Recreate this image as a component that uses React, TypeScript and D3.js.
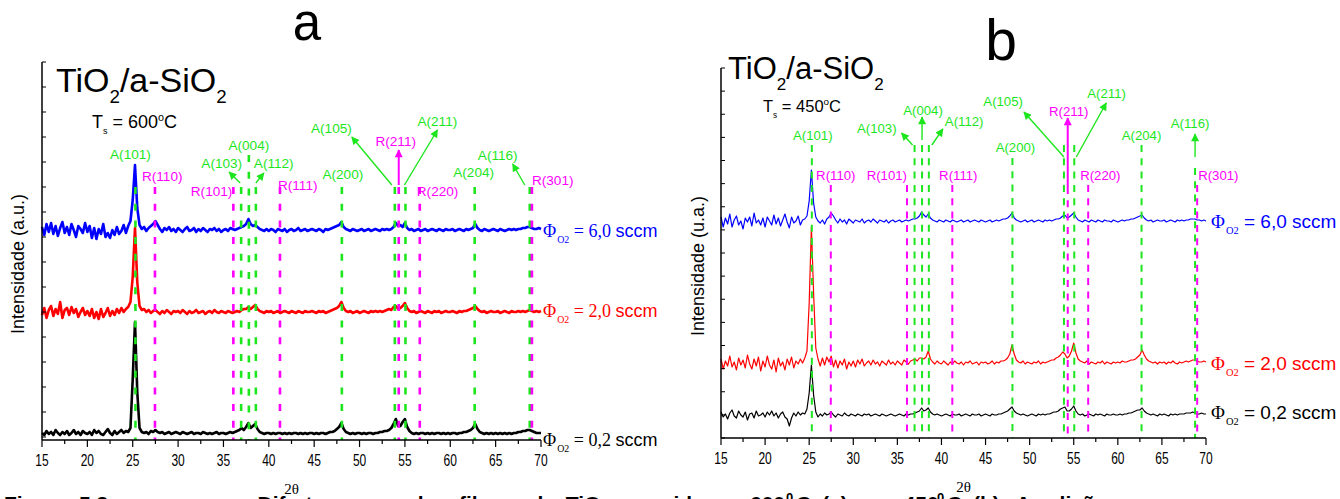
import React from "react";
import * as d3 from "d3";

// ---------- DATA ----------
// 2θ sampling grid: 15° .. 70°, step 0.25° (221 points)
const thetaStart = 15;
const thetaStep = 0.25;
const twoTheta: number[] = d3.range(221).map((i) => thetaStart + i * thetaStep);

const xTickValues = [15, 20, 25, 30, 35, 40, 45, 50, 55, 60, 65, 70];

// Reference peak positions (2θ)
const anataseLabels = ["A(101)", "A(103)", "A(004)", "A(112)", "A(200)", "A(105)", "A(211)", "A(204)", "A(116)"];
const anatasePos = [25.3, 36.95, 37.8, 38.57, 48.05, 53.89, 55.06, 62.69, 68.76];
const rutileLabels = ["R(110)", "R(101)", "R(111)", "R(211)", "R(220)", "R(301)"];
const rutilePos = [27.45, 36.09, 41.23, 54.32, 56.64, 69.0];

// Panel a (600°C) — intensities above each trace's own baseline (a.u.)
const a600_phi60 = [
  3, -5, 6, -2, 7, -4, 4, -6, 2, 8, -3, 3, -5, 6, 0, -7, 4, 1, -3, 7,
  -2, 4, -8, 2, -9, 1, -4, 6, -7, -3, -8, 0, -5, 3, -4, -1, 5, -3, 4, 9,
  30, 65, 22, 5, 1, 3, -1, 2, 4, 6, 9, 5, 1, -2, 2, 0, 3, -1, 1, -2,
  2, 0, -2, 1, 3, -1, 0, 2, -2, 1, -1, 2, 0, -2, 1, 0, 2, -1, 1, -2,
  0, 1, -1, 2, 1, 0, 1, 2, 3, 4, 6, 11, 6, 4, 5, 3, 1, 0, -1, 1,
  -1, 1, 0, -2, 1, 0, -1, 1, -2, 0, 1, -1, 0, 2, -1, 0, 1, -1, 0, 1,
  0, -1, 1, 0, -2, 1, 0, 1, 2, 3, 4, 5, 8, 3, 1, 0, -1, 1, 0, -1,
  0, 1, -1, 0, 1, -1, 0, 1, 0, -1, 1, 0, 1, 0, 1, 3, 7, 4, 5, 3,
  7, 2, 0, 1, -1, 0, 1, -1, 0, 1, -1, 0, 1, 0, -1, 1, 0, -1, 1, 0,
  0, 1, -1, 0, 1, 0, -1, 1, 0, 1, 2, 6, 2, 0, -1, 1, 0, -1, 0, 1,
  0, -1, 1, 0, -1, 0, 1, 0, 1, 0, 1, 1, 2, 2, 3, 3, 2, 1, 1, 2,
  1,
];
const a600_phi20 = [
  -3, 4, -6, 2, 6, -4, 3, -2, 10, -6, 2, 4, -3, 5, -1, 3, -5, 0, 4, -3,
  1, -4, 3, -6, 0, -7, 3, -5, -1, 4, -4, 1, -3, 3, -1, 4, 0, 3, 5, 10,
  35, 84, 30, 6, 2, 3, 0, 2, -1, 1, 2, 0, -2, 1, -1, 2, 0, -2, 1, 0,
  1, -1, 2, 0, -2, 1, -1, 0, 2, -1, 0, 1, -2, 0, 1, -1, 2, 0, -1, 1,
  0, -1, 1, 0, -1, 0, 1, 0, 2, 3, 3, 5, 3, 5, 7, 3, 1, 0, -1, 1,
  0, 1, -1, 0, 1, -1, 0, 1, 0, -1, 1, 0, -1, 1, 0, -1, 1, 0, 0, 1,
  0, -1, 1, 0, 1, -1, 0, 1, 2, 3, 4, 6, 10, 4, 1, 0, 1, -1, 0, 1,
  -1, 0, 1, 0, -1, 1, 0, 1, 0, 1, 0, 1, 2, 3, 2, 5, 6, 3, 4, 6,
  9, 4, 1, 0, 1, -1, 0, 1, 0, -1, 1, 0, -1, 1, 0, 1, -1, 0, 1, 0,
  0, 1, 0, -1, 1, 0, 1, 1, 2, 3, 4, 6, 3, 1, 0, 1, -1, 0, 1, 0,
  0, 1, -1, 0, 1, 0, -1, 1, 0, 0, 1, 0, 1, 0, 1, 2, 1, 0, 1, 0,
  1,
];
const a600_phi02 = [
  1, -1, 3, 0, 2, -1, 4, 1, -1, 2, 0, 3, -1, 1, 4, 0, 2, -1, 3, 1,
  0, 2, -1, 4, 1, 3, 0, -1, 2, 5, 1, -1, 3, 0, 2, 4, 1, 3, 2, 6,
  55, 112, 42, 6, 2, 1, 2, 0, 3, 2, 4, 2, 1, 2, 0, 1, 2, 0, 1, 2,
  1, 0, 2, 1, 0, 1, 2, 0, 1, 1, 0, 2, 1, 0, 1, 0, 1, 2, 0, 1,
  1, 0, 1, 2, 1, 2, 3, 4, 6, 4, 7, 11, 6, 8, 10, 5, 2, 1, 0, 1,
  1, 0, 1, 0, 1, 1, 0, 1, 0, 1, 0, 1, 1, 0, 1, 0, 1, 0, 1, 1,
  0, 1, 0, 1, 1, 0, 1, 2, 2, 3, 5, 7, 11, 5, 2, 1, 0, 1, 0, 1,
  1, 0, 1, 0, 1, 1, 0, 1, 1, 2, 2, 3, 3, 4, 6, 10, 15, 8, 8, 12,
  15, 7, 3, 1, 0, 1, 0, 1, 1, 0, 1, 0, 1, 0, 1, 1, 0, 1, 0, 1,
  0, 1, 1, 0, 1, 1, 2, 2, 3, 4, 6, 10, 5, 2, 1, 0, 1, 0, 1, 0,
  1, 0, 1, 0, 1, 0, 1, 0, 1, 1, 2, 2, 3, 3, 4, 4, 3, 2, 1, 1,
  1,
];

// Panel b (450°C)
const b450_phi60 = [
  4, -6, 3, -3, 7, -6, 1, 5, -4, 0, -8, 3, -1, 4, -5, 8, -2, 1, -4, 3,
  -6, 4, 0, -4, 6, -3, 3, -5, 1, 7, -1, -7, 4, -2, 0, 5, -4, 1, 2, 5,
  20, 51, 18, 4, 0, -2, 1, -3, 2, 4, 8, 5, 1, -2, 2, -1, 1, -3, 2, 0,
  -2, 1, 0, -1, 2, -2, 0, 1, -1, 2, 0, -2, 1, 0, -1, 1, -2, 0, 1, -1,
  0, 1, -1, 0, 1, 0, 1, 2, 2, 3, 5, 9, 6, 4, 7, 3, 1, 0, -1, 1,
  0, -1, 1, 0, -1, 1, 0, -1, 0, 1, -1, 0, 1, -1, 0, 1, 0, -1, 1, 0,
  -1, 0, 1, -1, 0, 1, 0, 1, 2, 2, 3, 5, 8, 3, 1, 0, -1, 0, 1, -1,
  0, 1, -1, 0, 1, 0, -1, 1, 0, 1, 0, 1, 2, 2, 3, 5, 6, 3, 4, 6,
  8, 4, 1, 0, -1, 1, 0, -1, 1, 0, -1, 1, 0, -1, 1, 0, 0, -1, 1, 0,
  -1, 0, 1, 0, 1, 1, 2, 2, 3, 4, 5, 6, 3, 1, 0, 1, -1, 0, 1, 0,
  0, 1, -1, 0, 1, 0, -1, 1, 0, 1, 0, 1, 1, 2, 2, 2, 1, 1, 0, 1,
  0,
];
const b450_phi20 = [
  4, -6, 2, -3, 7, -4, 1, -7, 5, -2, 3, -5, 8, -1, -6, 4, -3, 6, -8, 2,
  -4, 7, -2, -6, 3, -9, 5, -3, 1, -7, 4, -2, 6, -5, 2, -1, 4, 0, 5, 12,
  60, 136, 70, 15, 4, -3, 5, -2, 6, 1, 7, -4, 3, -5, 2, -2, 4, -6, 1, -3,
  2, -4, 3, -1, 4, -3, 0, 2, -2, 3, -1, 1, -3, 2, 0, -2, 3, -1, 1, -2,
  2, 0, -2, 3, 1, -1, 2, 3, 4, 2, 5, 5, 4, 6, 12, 4, 1, -1, 2, 0,
  -1, 2, 0, -2, 1, -1, 2, 0, -1, 1, -2, 1, 0, 2, -1, 0, 1, -2, 1, 0,
  1, -1, 0, 2, -1, 1, 0, 2, 2, 3, 5, 9, 18, 9, 3, 1, 0, 2, -1, 1,
  0, -1, 1, 0, 2, -1, 1, 0, 1, 2, 3, 3, 5, 6, 8, 11, 9, 5, 7, 12,
  20, 10, 4, 2, 1, 0, 2, -1, 1, 0, -1, 1, 0, 2, -1, 1, 0, -1, 1, 0,
  1, 0, 2, 1, 1, 2, 3, 3, 4, 6, 8, 13, 8, 4, 2, 1, 0, 1, -1, 1,
  0, 1, -1, 1, 0, 2, 0, -1, 1, 0, 1, 2, 1, 2, 3, 3, 2, 1, 1, 2,
  1,
];
const b450_phi02 = [
  3, -2, 1, -4, 2, 5, -1, -3, 4, 0, -2, 3, -5, 1, 2, -3, 4, -1, 0, 2,
  -2, 3, 0, 4, -1, 2, -3, 1, 3, -2, -4, -11, -3, 2, -1, 3, 0, 2, 1, 6,
  22, 50, 20, 3, -2, 1, -1, 2, 0, 1, 3, 0, -2, 1, 0, -1, 2, 0, -1, 1,
  0, -1, 1, 0, -1, 1, 0, 1, -1, 0, 1, 0, -1, 1, 0, -1, 0, 1, 0, -1,
  0, 1, 0, -1, 1, 0, 1, 1, 2, 3, 4, 7, 4, 5, 7, 3, 1, 0, 1, 0,
  -1, 0, 1, 0, -1, 1, 0, 0, 1, -1, 0, 1, 0, -1, 1, 0, 0, 1, -1, 0,
  1, 0, -1, 1, 0, 0, 1, 1, 2, 3, 4, 6, 8, 4, 2, 1, 0, 1, 0, -1,
  0, 1, 0, -1, 1, 0, 1, 0, 1, 1, 2, 3, 3, 4, 6, 7, 8, 4, 4, 6,
  9, 4, 1, 0, 1, -1, 0, 1, 0, -1, 1, 0, 1, 0, -1, 1, 0, 0, 1, 0,
  0, 1, 0, 1, 1, 2, 2, 3, 4, 5, 5, 7, 4, 2, 1, 0, 1, 0, -1, 1,
  0, 1, 0, -1, 1, 0, 1, 0, 1, 1, 1, 2, 2, 2, 3, 2, 1, 1, 2, 1,
  1,
];

// Stacking offsets (a.u.) for Φ = 0,2 / 2,0 / 6,0 sccm
const a600_offsets = [3, 125, 207];
const b450_offsets = [23, 75, 217];
const fluxLabels = ["0,2", "2,0", "6,0"];

// ---------- STYLE / LAYOUT ----------
const GREEN = "#1ee61e";
const MAGENTA = "#ff00ff";
const SERIES_COLORS = ["#000000", "#ff0000", "#0000ff"];
const SANS = "'Liberation Sans', Arial, sans-serif";
const SERIF = "'Liberation Serif', 'Times New Roman', serif";

type Ann = { top: number; dx: number; ly: number; anchor: string; arrow?: number[] };

const layoutA: Record<string, Ann> = {
  "A(101)": { top: 187, dx: -5, ly: 159, anchor: "middle" },
  "A(103)": { top: 187, dx: 1, ly: 168, anchor: "end", arrow: [-1, 183, -12, 172] },
  "A(004)": { top: 155, dx: 0, ly: 150, anchor: "middle" },
  "A(112)": { top: 187, dx: -2, ly: 168, anchor: "start", arrow: [0, 183, 8, 173] },
  "A(200)": { top: 187, dx: 1, ly: 179, anchor: "middle" },
  "A(105)": { top: 187, dx: -43, ly: 133, anchor: "end", arrow: [-3, 185, -43, 137] },
  "A(211)": { top: 187, dx: 12, ly: 126, anchor: "start", arrow: [-1, 185, 32, 130] },
  "A(204)": { top: 187, dx: -1, ly: 177, anchor: "middle" },
  "A(116)": { top: 187, dx: -32, ly: 160, anchor: "middle", arrow: [-5, 185, -17, 164] },
  "R(110)": { top: 187, dx: -13, ly: 181, anchor: "start" },
  "R(101)": { top: 187, dx: -1, ly: 196, anchor: "end" },
  "R(111)": { top: 187, dx: -2, ly: 190, anchor: "start" },
  "R(211)": { top: 187, dx: -3, ly: 146, anchor: "middle", arrow: [0, 185, 0, 150] },
  "R(220)": { top: 187, dx: -3, ly: 196, anchor: "start" },
  "R(301)": { top: 187, dx: 0, ly: 185, anchor: "start" },
};

const layoutB: Record<string, Ann> = {
  "A(101)": { top: 145, dx: 1, ly: 140, anchor: "middle" },
  "A(103)": { top: 145, dx: -18, ly: 133, anchor: "end", arrow: [-2, 145, -13, 133] },
  "A(004)": { top: 145, dx: 1, ly: 115, anchor: "middle", arrow: [0, 140, 0, 117] },
  "A(112)": { top: 145, dx: 16, ly: 126, anchor: "start", arrow: [3, 145, 14, 129] },
  "A(200)": { top: 158, dx: 3, ly: 152, anchor: "middle" },
  "A(105)": { top: 145, dx: -41, ly: 106, anchor: "end", arrow: [0, 157, -40, 112] },
  "A(211)": { top: 145, dx: 13, ly: 98, anchor: "start", arrow: [2, 157, 32, 103] },
  "A(204)": { top: 145, dx: 0, ly: 140, anchor: "middle" },
  "A(116)": { top: 168, dx: -5, ly: 128, anchor: "middle", arrow: [0, 157, 0, 134] },
  "R(110)": { top: 185, dx: 5, ly: 180, anchor: "middle" },
  "R(101)": { top: 185, dx: 0, ly: 180, anchor: "end" },
  "R(111)": { top: 185, dx: 6, ly: 180, anchor: "middle" },
  "R(211)": { top: 187, dx: 1, ly: 116, anchor: "middle", arrow: [0, 187, 0, 118] },
  "R(220)": { top: 185, dx: -8, ly: 180, anchor: "start" },
  "R(301)": { top: 185, dx: 1, ly: 180, anchor: "start" },
};

type PanelCfg = {
  key: string;
  letter: string;
  letterX: number;
  letterY: number;
  letterSize: number;
  xRange: [number, number];
  yDomain: [number, number];
  yRange: [number, number];
  yTickCount: number;
  axisBottom: number;
  axisTop: number;
  tickLabelY: number;
  xLabelY: number;
  yLabel: string;
  yLabelX: number;
  yLabelY: number;
  series: number[][];
  offsets: number[];
  traceWidth: number;
  titleX: number;
  titleY: number;
  titleSize: number;
  temp: string;
  tempX: number;
  tempY: number;
  tempSize: number;
  layout: Record<string, Ann>;
  dash: string;
  dashWidth: number;
  annSize: number;
  phiX: number;
  phiYs: number[];
  phiSize: number;
  phiSerifValue: boolean;
};

const panels: PanelCfg[] = [
  {
    key: "a",
    letter: "a",
    letterX: 307,
    letterY: 40,
    letterSize: 51,
    xRange: [42, 541],
    yDomain: [0, 375],
    yRange: [437, 62],
    yTickCount: 15,
    axisBottom: 440,
    axisTop: 62,
    tickLabelY: 466,
    xLabelY: 494,
    yLabel: "Intensidade (a.u.)",
    yLabelX: 24,
    yLabelY: 264,
    series: [a600_phi02, a600_phi20, a600_phi60],
    offsets: a600_offsets,
    traceWidth: 2.6,
    titleX: 56,
    titleY: 92,
    titleSize: 34,
    temp: "600",
    tempX: 92,
    tempY: 128,
    tempSize: 18,
    layout: layoutA,
    dash: "7,9.7",
    dashWidth: 2.6,
    annSize: 13.6,
    phiX: 543,
    phiYs: [446, 317, 237],
    phiSize: 18,
    phiSerifValue: true,
  },
  {
    key: "b",
    letter: "b",
    letterX: 1001,
    letterY: 60,
    letterSize: 57,
    xRange: [721, 1206],
    yDomain: [0, 370],
    yRange: [438, 68],
    yTickCount: 16,
    axisBottom: 438,
    axisTop: 68,
    tickLabelY: 464,
    xLabelY: 492,
    yLabel: "Intensidade (u.a.)",
    yLabelX: 704,
    yLabelY: 266,
    series: [b450_phi02, b450_phi20, b450_phi60],
    offsets: b450_offsets,
    traceWidth: 1.2,
    titleX: 728,
    titleY: 79,
    titleSize: 31,
    temp: "450",
    tempX: 763,
    tempY: 112,
    tempSize: 16.5,
    layout: layoutB,
    dash: "7,6.3",
    dashWidth: 2,
    annSize: 13.2,
    phiX: 1211,
    phiYs: [419, 370, 228],
    phiSize: 19,
    phiSerifValue: false,
  },
];

function PhiLabel({ x, y, value, color, size, serifValue }: any) {
  return (
    <text x={x} y={y} fill={color} fontSize={size}>
      <tspan fontFamily={SERIF}>Φ</tspan>
      <tspan fontFamily={SERIF} fontSize={size * 0.55} dy={6} dx={1}>
        O2
      </tspan>
      <tspan dy={-6} fontFamily={serifValue ? SERIF : SANS}>
        {" = " + value + " "}
      </tspan>
      <tspan fontFamily={SANS}>sccm</tspan>
    </text>
  );
}

function Panel({ cfg }: { cfg: PanelCfg }) {
  const x = d3.scaleLinear().domain([15, 70]).range(cfg.xRange);
  const y = d3.scaleLinear().domain(cfg.yDomain).range(cfg.yRange);
  const xMinor = d3.range(15, 70.001, 2.5);
  const yStep = (cfg.yDomain[1] - cfg.yDomain[0]) / cfg.yTickCount;
  const yTicks = d3.range(cfg.yTickCount + 1).map((i) => cfg.yDomain[0] + i * yStep);

  const makeLine = (vals: number[], off: number) =>
    d3
      .line<number>()
      .x((_, i) => x(twoTheta[i]))
      .y((v) => y(v + off))(vals) || "";

  const refs = [
    ...anataseLabels.map((l, i) => ({ label: l, pos: anatasePos[i], color: GREEN })),
    ...rutileLabels.map((l, i) => ({ label: l, pos: rutilePos[i], color: MAGENTA })),
  ];
  const mk = (c: string) => `url(#arrow-${cfg.key}-${c === GREEN ? "g" : "m"})`;
  const tickFont = 16;

  return (
    <g>
      <defs>
        <marker id={`arrow-${cfg.key}-g`} viewBox="0 0 10 10" refX="9" refY="5" markerWidth="9" markerHeight="8" markerUnits="userSpaceOnUse" orient="auto">
          <path d="M0,0 L10,5 L0,10 z" fill={GREEN} />
        </marker>
        <marker id={`arrow-${cfg.key}-m`} viewBox="0 0 10 10" refX="9" refY="5" markerWidth="10" markerHeight="8" markerUnits="userSpaceOnUse" orient="auto">
          <path d="M0,0 L10,5 L0,10 z" fill={MAGENTA} />
        </marker>
      </defs>

      {/* panel letter */}
      <text x={cfg.letterX} y={cfg.letterY} fontSize={cfg.letterSize} textAnchor="middle" fontFamily={SANS} fill="#000">
        {cfg.letter}
      </text>

      {/* title */}
      <text x={cfg.titleX} y={cfg.titleY} fontSize={cfg.titleSize} fontFamily={SANS} fill="#000">
        <tspan>TiO</tspan>
        <tspan fontSize={cfg.titleSize * 0.55} dy={11}>2</tspan>
        <tspan dy={-11}>/a-SiO</tspan>
        <tspan fontSize={cfg.titleSize * 0.55} dy={11}>2</tspan>
      </text>
      <text x={cfg.tempX} y={cfg.tempY} fontSize={cfg.tempSize} fontFamily={SANS} fill="#000">
        <tspan>T</tspan>
        <tspan fontSize={cfg.tempSize * 0.5} dy={6}>s</tspan>
        <tspan dy={-6}>{" = " + cfg.temp}</tspan>
        <tspan fontSize={cfg.tempSize * 0.6} dy={-7}>o</tspan>
        <tspan dy={7}>C</tspan>
      </text>

      {/* traces */}
      {cfg.series.map((s, k) => (
        <path key={k} d={makeLine(s, cfg.offsets[k])} fill="none" stroke={SERIES_COLORS[k]} strokeWidth={cfg.traceWidth} strokeLinejoin="round" />
      ))}

      {/* reference dashed lines, labels and arrows */}
      {refs.map((r) => {
        const L = cfg.layout[r.label];
        const px = x(r.pos);
        return (
          <g key={r.label}>
            <line x1={px} x2={px} y1={L.top} y2={cfg.axisBottom} stroke={r.color} strokeWidth={cfg.dashWidth} strokeDasharray={cfg.dash} />
            <text x={px + L.dx} y={L.ly} fill={r.color} fontSize={cfg.annSize} fontFamily={SANS} textAnchor={L.anchor as any}>
              {r.label}
            </text>
            {L.arrow && (
              <line
                x1={px + L.arrow[0]}
                y1={L.arrow[1]}
                x2={px + L.arrow[2]}
                y2={L.arrow[3]}
                stroke={r.color}
                strokeWidth={r.label === "R(211)" ? 2 : 1.4}
                markerEnd={mk(r.color)}
              />
            )}
          </g>
        );
      })}

      {/* series labels */}
      {fluxLabels.map((f, k) => (
        <PhiLabel key={f} x={cfg.phiX} y={cfg.phiYs[k]} value={f} color={SERIES_COLORS[k]} size={cfg.phiSize} serifValue={cfg.phiSerifValue} />
      ))}

      {/* axes */}
      <line x1={cfg.xRange[0]} x2={cfg.xRange[1]} y1={cfg.axisBottom} y2={cfg.axisBottom} stroke="#000" strokeWidth={1.5} />
      <line x1={cfg.xRange[0]} x2={cfg.xRange[0]} y1={cfg.axisTop} y2={cfg.axisBottom} stroke="#000" strokeWidth={1.5} />
      {xMinor.map((t) => {
        const major = Math.abs(t % 5) < 1e-6;
        return <line key={t} x1={x(t)} x2={x(t)} y1={cfg.axisBottom} y2={cfg.axisBottom + (major ? 7 : 4)} stroke="#000" strokeWidth={1.2} />;
      })}
      {yTicks.map((t, i) => (
        <line key={i} x1={cfg.xRange[0]} x2={cfg.xRange[0] + 4} y1={y(t)} y2={y(t)} stroke="#000" strokeWidth={1} />
      ))}
      {xTickValues.map((t) => (
        <text
          key={t}
          transform={`translate(${x(t)},${cfg.tickLabelY}) scale(0.75,1)`}
          fontSize={tickFont}
          fontFamily={SANS}
          textAnchor="middle"
          fill="#000"
        >
          {String(t)}
        </text>
      ))}
      <text x={(cfg.xRange[0] + cfg.xRange[1]) / 2} y={cfg.xLabelY} fontSize={15} fontFamily={SERIF} textAnchor="middle" fill="#000">
        2θ
      </text>
      <text
        transform={`translate(${cfg.yLabelX},${cfg.yLabelY}) rotate(-90)`}
        fontSize={18}
        fontFamily={SANS}
        textAnchor="middle"
        fill="#000"
      >
        {cfg.yLabel}
      </text>
    </g>
  );
}

const CAP = { fontSize: 21, fontWeight: "bold" as const, fontFamily: SANS, fill: "#000", wordSpacing: 5 };

export default function App() {
  return (
    <svg width={1340} height={499} style={{ position: "absolute", left: 0, top: 0, display: "block" }}>
      <rect x={0} y={0} width={1340} height={499} fill="#fff" />
      {panels.map((p) => (
        <Panel key={p.key} cfg={p} />
      ))}
      {/* figure caption (cut by the bottom edge) */}
      <text x={4} y={511} {...CAP}>Figura 5.3 –</text>
      <text x={785} y={511} textAnchor="end" {...CAP}>
        <tspan>Difratogramas dos filmes de TiO</tspan>
        <tspan fontSize={13} dy={5}>2</tspan>
        <tspan dy={-5}> crescidos a 600</tspan>
      </text>
      <text x={786} y={502} fontSize={13} fontWeight="bold" fontFamily={SANS} fill="#000">0</text>
      <text x={796} y={511} {...CAP}>C (a) e a 450</text>
      <text x={937} y={502} fontSize={13} fontWeight="bold" fontFamily={SANS} fill="#000">0</text>
      <text x={947} y={511} {...CAP}>C (b). A adição</text>
    </svg>
  );
}
